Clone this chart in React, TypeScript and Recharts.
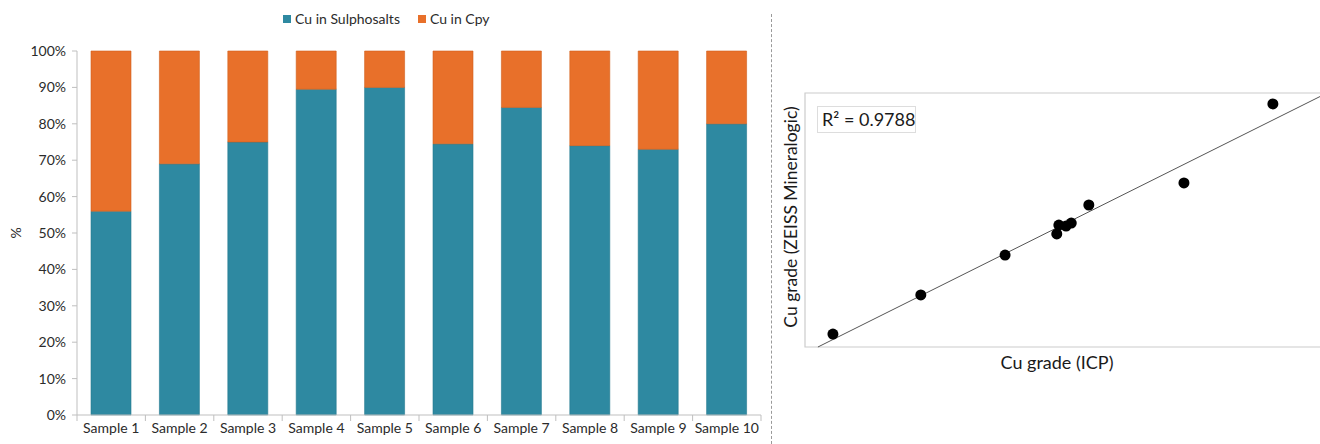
import {
  BarChart,
  Bar,
  XAxis,
  YAxis,
  ScatterChart,
  Scatter,
  ReferenceArea,
  ReferenceLine
} from 'recharts';

const categories = ['Sample 1', 'Sample 2', 'Sample 3', 'Sample 4', 'Sample 5', 'Sample 6', 'Sample 7', 'Sample 8', 'Sample 9', 'Sample 10'];
const sulphosalts = [56, 69, 75, 89.5, 90, 74.5, 84.5, 74, 73, 80];
const cpy = [44, 31, 25, 10.5, 10, 25.5, 15.5, 26, 27, 20];
const yTicks = [0, 10, 20, 30, 40, 50, 60, 70, 80, 90, 100];
const seriesNames = ['Cu in Sulphosalts', 'Cu in Cpy'];

// Cu grade: ICP (x) vs ZEISS Mineralogic (y), arbitrary units
const icp = [0.54, 2.24, 3.87, 4.87, 4.91, 5.05, 5.15, 5.49, 7.33, 9.05];
const zeiss = [0.51, 2.05, 3.62, 4.45, 4.8, 4.76, 4.88, 5.59, 6.46, 9.57];
const trendX = [0.25, 10];
const trendY = [0, 9.9];
const rSquared = '0.9788';

const TEAL = '#2E89A1';
const ORANGE = '#E8702A';
const FONT = 'Lato, "Open Sans", sans-serif';
const TEXT = '#2b2b2b';

const PLOT_LEFT = 77;
const PLOT_RIGHT = 761;
const HALF_BAND = (PLOT_RIGHT - PLOT_LEFT) / categories.length / 2;

const barData = categories.map((name, i) => ({
  name,
  sulpho: sulphosalts[i],
  cpy: cpy[i]
}));

const scatterData = icp.map((x, i) => ({ x, y: zeiss[i] }));

function SampleTick(props: any) {
  const { x, y, payload, index } = props;
  const last = index === categories.length - 1;
  return (
    <g>
      <line x1={x - HALF_BAND} y1={y - 8} x2={x - HALF_BAND} y2={y - 2} stroke="#bfbfbf" />
      {last && <line x1={x + HALF_BAND} y1={y - 8} x2={x + HALF_BAND} y2={y - 2} stroke="#bfbfbf" />}
      <text x={x} y={y} dy="0.71em" textAnchor="middle" fill={TEXT} fontSize={14} fontFamily={FONT}>
        {payload.value}
      </text>
    </g>
  );
}

function Dot(props: any) {
  return <circle cx={props.cx} cy={props.cy} r={5.5} fill="#000" />;
}

export default function App() {
  return (
    <div style={{ position: 'absolute', left: 0, top: 0, width: 1320, height: 444, overflow: 'hidden', background: '#fff', fontFamily: FONT, color: TEXT }}>
      {/* legend */}
      <div style={{ position: 'absolute', left: 283, top: 10, display: 'flex', alignItems: 'center', fontSize: 14 }}>
        <span style={{ width: 8, height: 8, background: TEAL, display: 'inline-block', marginRight: 4 }} />
        <span style={{ marginRight: 18 }}>{seriesNames[0]}</span>
        <span style={{ width: 8, height: 8, background: ORANGE, display: 'inline-block', marginRight: 4 }} />
        <span>{seriesNames[1]}</span>
      </div>

      <div style={{ position: 'absolute', left: 15, top: 233, transform: 'translate(-50%, -50%) rotate(-90deg)', fontSize: 14 }}>%</div>

      <div style={{ position: 'absolute', left: 0, top: 0 }}>
        <BarChart width={775} height={444} data={barData} margin={{ top: 51, right: 775 - PLOT_RIGHT, bottom: 0, left: 0 }}>
          <XAxis
            dataKey="name"
            height={29}
            axisLine={{ stroke: '#bfbfbf' }}
            tickLine={false}
            tick={<SampleTick />}
            interval={0}
          />
          <YAxis
            width={PLOT_LEFT}
            domain={[0, 100]}
            ticks={yTicks}
            tickFormatter={(v: number) => `${v}%`}
            axisLine={{ stroke: '#bfbfbf' }}
            tickLine={{ stroke: '#bfbfbf' }}
            tickSize={5}
            tickMargin={6}
            tick={{ fill: TEXT, fontSize: 14, fontFamily: FONT }}
          />
          <Bar dataKey="sulpho" name={seriesNames[0]} stackId="a" fill={TEAL} stroke="#24788e" strokeWidth={0.6} barSize={40} isAnimationActive={false} />
          <Bar dataKey="cpy" name={seriesNames[1]} stackId="a" fill={ORANGE} stroke="#d0601d" strokeWidth={0.6} barSize={40} isAnimationActive={false} />
        </BarChart>
      </div>

      {/* divider */}
      <div style={{ position: 'absolute', left: 771, top: 14, height: 430, borderLeft: '1px dashed #9a9a9a' }} />

      <div style={{ position: 'absolute', left: 775, top: 0 }}>
        <ScatterChart width={550} height={444} margin={{ top: 93, right: 3, bottom: 97, left: 30 }}>
          <XAxis type="number" dataKey="x" domain={[0, 10]} hide />
          <YAxis type="number" dataKey="y" domain={[0, 10]} hide />
          <ReferenceArea x1={0} x2={10} y1={0} y2={10} fill="none" stroke="#cccccc" strokeWidth={1.2} />
          <ReferenceLine
            segment={[{ x: trendX[0], y: trendY[0] }, { x: trendX[1], y: trendY[1] }]}
            stroke="#555555"
            strokeWidth={1}
          />
          <Scatter data={scatterData} shape={<Dot />} isAnimationActive={false} />
        </ScatterChart>
      </div>

      <div style={{ position: 'absolute', left: 817, top: 106, width: 93, height: 25, border: '1px solid #dddddd', fontSize: 18, lineHeight: '25px', paddingLeft: 4, boxSizing: 'content-box', whiteSpace: 'nowrap', color: '#1a1a1a' }}>
        R² = {rSquared}
      </div>

      <div style={{ position: 'absolute', left: 790, top: 217, transform: 'translate(-50%, -50%) rotate(-90deg)', fontSize: 17.5, whiteSpace: 'nowrap', color: '#1a1a1a' }}>
        Cu grade (ZEISS Mineralogic)
      </div>

      <div style={{ position: 'absolute', left: 1057, top: 362, transform: 'translate(-50%, -50%)', fontSize: 18, whiteSpace: 'nowrap', color: '#1a1a1a' }}>
        Cu grade (ICP)
      </div>
    </div>
  );
}
